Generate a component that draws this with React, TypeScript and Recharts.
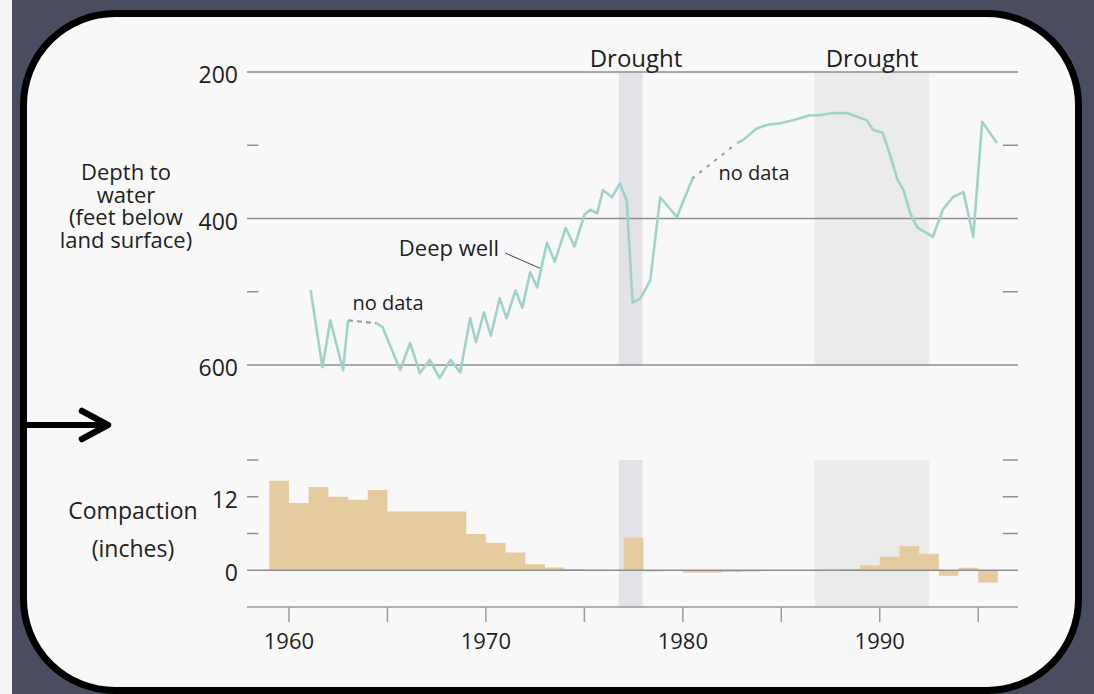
import React from 'react';
import { LineChart, Line, XAxis, YAxis, ReferenceLine, ReferenceArea, ComposedChart, Area } from 'recharts';

// Deep well: depth to water (feet below land surface); null = no data
const wellYears = [
  1961.1, 1961.7, 1962.1, 1962.75, 1963.0,
  1963.7,
  1964.45, 1964.75, 1965.65, 1966.15, 1966.65, 1967.15, 1967.65, 1968.2, 1968.7,
  1969.2, 1969.5, 1969.9, 1970.25, 1970.7, 1971.05, 1971.5, 1971.85, 1972.25, 1972.6,
  1973.1, 1973.5, 1974.05, 1974.5, 1975.0, 1975.3, 1975.65, 1975.95, 1976.4, 1976.8,
  1977.15, 1977.45, 1977.85, 1978.35, 1978.85, 1979.7, 1980.5,
  1981.6,
  1982.75, 1983.05, 1983.75, 1984.3, 1984.95, 1985.6, 1986.45, 1986.95, 1987.65, 1988.35,
  1988.85, 1989.35, 1989.65, 1990.15, 1990.5, 1990.9, 1991.2, 1991.55, 1991.9, 1992.7,
  1993.2, 1993.7, 1994.25, 1994.75, 1995.2, 1995.95,
];
const wellDepths = [
  498, 603, 539, 607, 539,
  null,
  543, 548, 607, 570, 611, 593, 618, 593, 610,
  536, 569, 528, 560, 509, 536, 498, 522, 473, 494,
  433, 459, 413, 438, 395, 388, 393, 361, 371, 352,
  375, 515, 509, 484, 371, 398, 345,
  null,
  297, 293, 277, 272, 270, 266, 259, 259, 256, 256,
  261, 266, 279, 283, 311, 347, 361, 393, 412, 425,
  388, 371, 364, 425, 268, 297,
];

// Compaction (inches) per year
const compactionYears = [
  1959, 1960, 1961, 1962, 1963, 1964, 1965, 1966, 1967, 1968,
  1969, 1970, 1971, 1972, 1973, 1974, 1975, 1976, 1977, 1978,
  1979, 1980, 1981, 1982, 1983, 1984, 1985, 1986, 1987, 1988,
  1989, 1990, 1991, 1992, 1993, 1994, 1995,
];
const compactionInches = [
  14.6, 11.0, 13.6, 12.0, 11.5, 13.1, 9.6, 9.6, 9.6, 9.6,
  5.9, 4.5, 2.9, 1.0, 0.45, 0.2, 0.1, 0.05, 5.3, -0.2,
  -0.1, -0.4, -0.4, -0.3, -0.2, -0.1, 0, 0, 0.1, 0.2,
  0.8, 2.2, 3.9, 2.7, -0.9, 0.4, -2.0,
];

const depthTicks = [200, 400, 600];
const depthMinorTicks = [300, 500];
const compactionTicks = [0, 12];
const compactionMinorTicks = [18, 12, 6];
const yearTicks = [1960, 1965, 1970, 1975, 1980, 1985, 1990, 1995];
const droughtStarts = [1976.75, 1986.7];
const droughtEnds = [1977.95, 1992.5];
const droughtLabel = 'Drought';
const depthTitleLines = ['Depth to', 'water', '(feet below', 'land surface)'];
const compactionTitleLines = ['Compaction', '(inches)'];

const X_DOMAIN: [number, number] = [1957.87, 1997.02];
const FONT = "'Open Sans', 'Noto Sans', sans-serif";
const GRID = '#8e8e8e';
const TEXT = '#1e1e1e';
const LINE = '#9fd3ca';
const TAN = '#e6cb9f';
const BAND_COLORS = ['#e3e2e9', '#ebebe9'];

const wellData = wellYears.map((year, i) => ({ year, depth: wellDepths[i] }));
const gapData = wellDepths
  .map((d, i) => (d === null ? [
    { year: wellYears[i - 1], gap: wellDepths[i - 1] },
    { year: wellYears[i + 1], gap: wellDepths[i + 1] },
  ] : null))
  .filter((g) => g !== null) as { year: number; gap: number }[][];
const gapStyles = [
  { dash: '5 4', color: '#9a9a9a', cap: 'butt' },
  { dash: '1.5 8', color: '#9a9a9a', cap: 'round' },
];

const compData = compactionYears.map((year, i) => ({ year, inches: compactionInches[i] }));
compData.push({ year: compactionYears[compactionYears.length - 1] + 1, inches: compactionInches[compactionInches.length - 1] });

const YTick = (props: any) => {
  const { x, y, payload } = props;
  return (
    <text x={x} y={y + 2} textAnchor="end" dominantBaseline="central" fontFamily={FONT} fontSize={23} fill={TEXT}>
      {payload.value}
    </text>
  );
};

const YearTick = (props: any) => {
  const { x, y, payload } = props;
  if (payload.value % 10 !== 0) return <g />;
  return (
    <text x={x} y={y + 8} textAnchor="middle" dominantBaseline="central" fontFamily={FONT} fontSize={22} fill={TEXT}>
      {payload.value}
    </text>
  );
};

const minorLeft = [X_DOMAIN[0], 1958.45];
const minorRight = [1996.25, X_DOMAIN[1]];

export default function App() {
  return (
    <div style={{ position: 'fixed', left: 0, top: 0, width: 1094, height: 694, background: '#4a4d60', overflow: 'hidden' }}>
      <div style={{ position: 'absolute', left: 0, top: 0, width: 12, height: 694, background: '#f4f4f4' }} />
      <div
        style={{
          position: 'absolute', left: 20, top: 10, width: 1062, height: 684,
          boxSizing: 'border-box', border: '7px solid #000', borderRadius: 95, background: '#f8f8f8',
        }}
      />
      <div style={{ position: 'absolute', left: 0, top: 0 }}>
        <LineChart width={1094} height={400} margin={{ top: 72, right: 76, bottom: 5.7, left: 0 }}>
          <XAxis type="number" dataKey="year" domain={X_DOMAIN} hide allowDataOverflow />
          <YAxis
            type="number" reversed domain={[200, 640]} ticks={depthTicks} interval={0} width={247}
            axisLine={false} tickLine={false} tickMargin={3} tick={<YTick />} allowDataOverflow
          />
          {droughtStarts.map((s, i) => (
            <ReferenceArea key={'b' + i} x1={s} x2={droughtEnds[i]} y1={200} y2={600} fill={BAND_COLORS[i]} fillOpacity={1} stroke="none" />
          ))}
          {depthTicks.map((v) => (
            <ReferenceLine key={'g' + v} y={v} stroke={GRID} strokeWidth={1.5} />
          ))}
          {depthMinorTicks.map((v) => (
            <ReferenceLine key={'ml' + v} segment={[{ x: minorLeft[0], y: v }, { x: minorLeft[1], y: v }]} stroke={GRID} strokeWidth={1.5} />
          ))}
          {depthMinorTicks.map((v) => (
            <ReferenceLine key={'mr' + v} segment={[{ x: minorRight[0], y: v }, { x: minorRight[1], y: v }]} stroke={GRID} strokeWidth={1.5} />
          ))}
          <ReferenceLine segment={[{ x: 1970.97, y: 447 }, { x: 1972.75, y: 468 }]} stroke="#444" strokeWidth={1} />
          {gapData.map((g, i) => (
            <Line
              key={'gap' + i} data={g} dataKey="gap" type="linear" stroke={gapStyles[i].color} strokeWidth={2.2}
              strokeDasharray={gapStyles[i].dash} strokeLinecap={gapStyles[i].cap as any} dot={false} isAnimationActive={false}
            />
          ))}
          <Line
            data={wellData} dataKey="depth" type="linear" stroke={LINE} strokeWidth={2.6} dot={false}
            connectNulls={false} isAnimationActive={false} strokeLinejoin="round"
          />
        </LineChart>
      </div>
      <div style={{ position: 'absolute', left: 0, top: 420 }}>
        <ComposedChart width={1094} height={274} margin={{ top: 40, right: 76, bottom: 27, left: 0 }} data={compData}>
          <XAxis
            type="number" dataKey="year" domain={X_DOMAIN} ticks={yearTicks} interval={0} allowDataOverflow height={60}
            tickSize={15} tickMargin={10} axisLine={{ stroke: '#9a9a9a', strokeWidth: 1.5 }}
            tickLine={{ stroke: '#9a9a9a', strokeWidth: 1.5 }} tick={<YearTick />}
          />
          <YAxis
            type="number" domain={[-6, 18]} ticks={compactionTicks} interval={0} width={247}
            axisLine={false} tickLine={false} tickMargin={3} tick={<YTick />} allowDataOverflow
          />
          {droughtStarts.map((s, i) => (
            <ReferenceArea key={'lb' + i} x1={s} x2={droughtEnds[i]} y1={-6} y2={18} fill={BAND_COLORS[i]} fillOpacity={1} stroke="none" />
          ))}
          <Area type="stepAfter" dataKey="inches" baseValue={0} fill={TAN} fillOpacity={1} stroke="none" isAnimationActive={false} />
          <ReferenceLine y={0} stroke={GRID} strokeWidth={1.5} />
          {compactionMinorTicks.map((v) => (
            <ReferenceLine key={'cl' + v} segment={[{ x: minorLeft[0], y: v }, { x: minorLeft[1], y: v }]} stroke={GRID} strokeWidth={1.5} />
          ))}
          {compactionMinorTicks.map((v) => (
            <ReferenceLine key={'cr' + v} segment={[{ x: minorRight[0], y: v }, { x: minorRight[1], y: v }]} stroke={GRID} strokeWidth={1.5} />
          ))}
        </ComposedChart>
      </div>
      <div
        style={{
          position: 'absolute', left: 46, top: 160, width: 160, textAlign: 'center',
          fontFamily: FONT, fontSize: 22, lineHeight: '22.7px', color: TEXT, whiteSpace: 'pre',
        }}
      >
        {depthTitleLines.join('\n')}
      </div>
      <svg width={1094} height={694} style={{ position: 'absolute', left: 0, top: 0, pointerEvents: 'none' }}>
        <g fontFamily={FONT} fill={TEXT} textAnchor="middle">
          <text x={636} y={57} fontSize={24} dominantBaseline="central">{droughtLabel}</text>
          <text x={872} y={57} fontSize={24} dominantBaseline="central">{droughtLabel}</text>
          <text x={133} y={510} fontSize={23} dominantBaseline="central">{compactionTitleLines[0]}</text>
          <text x={133} y={548} fontSize={23} dominantBaseline="central">{compactionTitleLines[1]}</text>
          <text x={449} y={247} fontSize={22} dominantBaseline="central">Deep well</text>
          <text x={388} y={302} fontSize={20} dominantBaseline="central">no data</text>
          <text x={754} y={172} fontSize={20} dominantBaseline="central">no data</text>
        </g>
        <line x1={27} y1={425} x2={106} y2={425} stroke="#000" strokeWidth={6} />
        <polyline points="82,411 108,425 82,439" fill="none" stroke="#000" strokeWidth={6.5} strokeLinecap="round" strokeLinejoin="round" />
      </svg>
    </div>
  );
}
